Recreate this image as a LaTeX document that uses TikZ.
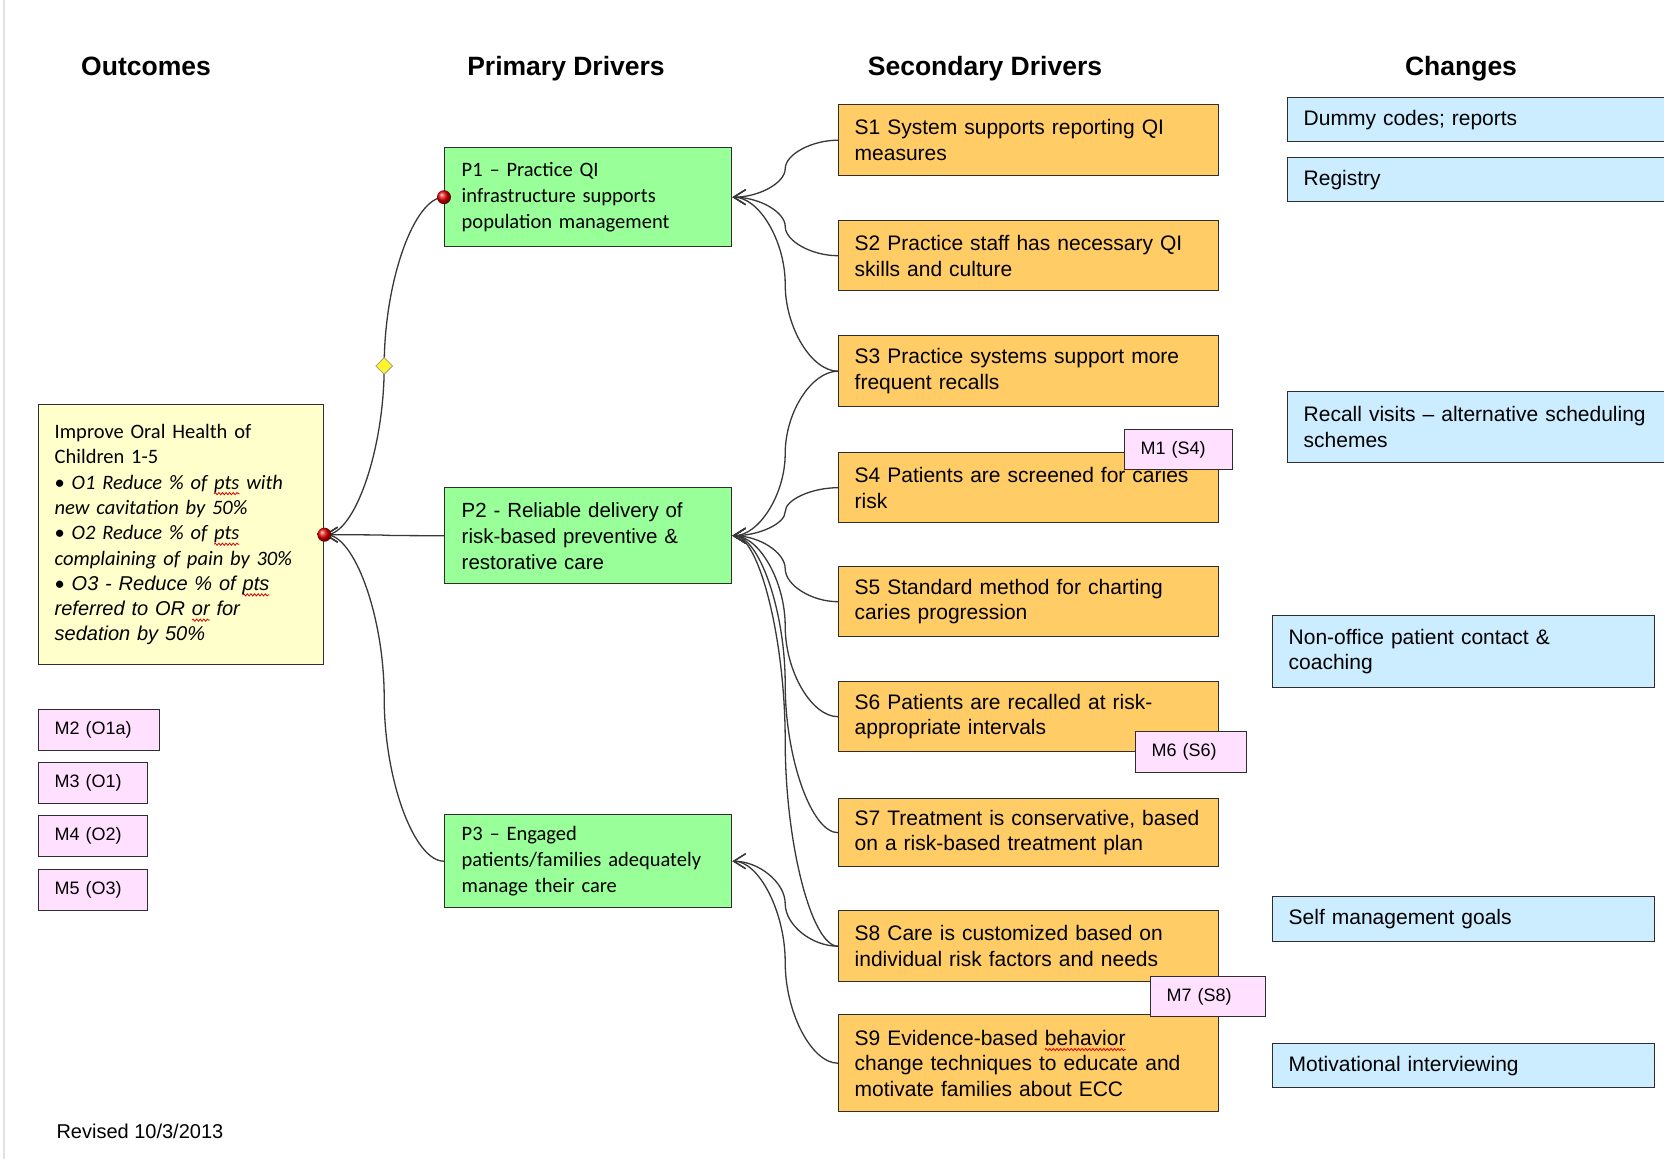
\documentclass[tikz,border=0pt]{standalone}
\usepackage{fontspec}
\setmainfont{Liberation Sans}
\newfontfamily\calfont{Carlito}
\usetikzlibrary{arrows.meta,calc,shapes.geometric,decorations.pathmorphing}

\definecolor{outfill}{HTML}{FFFFCC}
\definecolor{primfill}{HTML}{99FF99}
\definecolor{secfill}{HTML}{FFCC66}
\definecolor{chgfill}{HTML}{CCECFF}
\definecolor{measfill}{HTML}{FFE1FF}
\definecolor{rim}{HTML}{2E2E2E}
\definecolor{wirecol}{HTML}{383838}
\definecolor{pagerule}{HTML}{E2E2E2}

% red wavy spelling underline under a word
\newsavebox\spellbox
\newcommand\spellmark[1]{\sbox\spellbox{#1}\leavevmode
  \tikz[overlay,baseline=0pt,x=1pt,y=1pt]\draw[red!85!black,line width=0.8pt,
    decorate,decoration={snake,amplitude=1.1pt,segment length=3.6pt}]
    (0pt,-4.5pt) -- (\the\wd\spellbox,-4.5pt);%
  \usebox\spellbox}

\newcommand\txtS{\fontsize{21}{25.7}\selectfont}
\newcommand\txtP{\calfont\fontsize{20.5}{26}\selectfont}

\begin{document}
\begin{tikzpicture}[x=1pt,y=-1pt,
  box/.style={draw=rim, line width=1.4pt, anchor=north west, inner xsep=16pt,
    inner ysep=0pt, align=left, text=black},
  secbox/.style={box, fill=secfill, minimum width=380pt, minimum height=70pt,
    text width=348pt, font=\txtS},
  primbox/.style={box, fill=primfill, inner xsep=17pt, minimum width=287pt,
    text width=253pt, font=\txtP},
  chgbox/.style={box, fill=chgfill, font=\txtS},
  measbox/.style={box, fill=measfill, minimum height=41pt,
    font=\fontsize{18}{22}\selectfont},
  coltitle/.style={anchor=base, font=\fontsize{26.5}{30}\selectfont\bfseries},
  wire/.style={draw=wirecol, line width=1.3pt,
    -{Straight Barb[length=12pt,width=15pt,line width=1.3pt]}},
  pcurve/.style={to path={
    let \p1=(\tikztostart), \p2=(\tikztotarget),
        \p3=($(\p1)!0.5!(\p2)$), \p4=($(\p1)!0.25!(\p2)$),
        \p5=($(\p1)!0.75!(\p2)$) in
    .. controls ($(\p1)!0.5!(\x3,\y1)$) and (\x3,\y4) .. (\p3)
    .. controls (\x3,\y5) and ($(\p2)!0.5!(\x3,\y2)$) .. (\p2) \tikztonodes}},
  reddot/.style={circle, inner sep=0pt, minimum size=14pt, shading=ball,
    ball color=red!90!black},
  handle/.style={diamond, inner sep=0pt, minimum size=17pt, draw=gray!80,
    line width=0.8pt, fill=yellow!85!white}
]
\useasboundingbox (0,0) rectangle (1664,1159);
\clip (0,0) rectangle (1664,1159);
\fill[white] (0,0) rectangle (1664,1159);
\draw[pagerule, line width=1.5pt] (4,0) -- (4,1159);

% column headings
\node[coltitle] (hout) at (146,75) {Outcomes};
\node[coltitle] (hprim) at (566,75) {Primary Drivers};
\node[coltitle] (hsec) at (985,75) {Secondary Drivers};
\node[coltitle] (hchg) at (1461,75) {Changes};

% outcome
\node[box, fill=outfill, minimum width=285pt, minimum height=260pt,
  text width=253pt, font=\calfont\fontsize{20.5}{25.3}\selectfont] (o) at (38,404)
  {Improve Oral Health of\\
   Children 1-5\\
   • \textit{O1 Reduce \% of \spellmark{pts} with}\\
   \textit{new cavitation by 50\%}\\
   • \textit{O2 Reduce \% of \spellmark{pts}}\\
   \textit{complaining of pain by 30\%}\\
   • {\rmfamily\itshape\fontsize{20}{25.3}\selectfont O3 - Reduce \% of \spellmark{pts}}\\
   {\rmfamily\itshape\fontsize{20}{25.3}\selectfont referred to OR \spellmark{or} for}\\
   {\rmfamily\itshape\fontsize{20}{25.3}\selectfont sedation by 50\%}};

% outcome measures
\node[measbox, minimum width=121pt, text width=89pt] (m2) at (38,709) {M2 (O1a)};
\node[measbox, minimum width=109pt, text width=77pt] (m3) at (38,762) {M3 (O1)};
\node[measbox, minimum width=109pt, text width=77pt] (m4) at (38,815) {M4 (O2)};
\node[measbox, minimum width=109pt, text width=77pt] (m5) at (38,869) {M5 (O3)};

% primary drivers
\node[primbox, minimum height=99pt] (p1) at (444,147)
  {P1 – Practice QI\\ infrastructure supports\\ population management};
\node[primbox, minimum height=96pt, font=\fontsize{20.5}{26}\selectfont] (p2) at (444,487)
  {P2 - Reliable delivery of\\ risk-based preventive \&\\ restorative care};
\node[primbox, minimum height=93pt] (p3) at (444,814)
  {P3 – Engaged\\ patients/families adequately\\ manage their care};

% secondary drivers
\node[secbox, minimum height=71pt] (s1) at (838,104)
  {S1 System supports reporting QI\\ measures};
\node[secbox] (s2) at (838,220)
  {S2 Practice staff has necessary QI\\ skills and culture};
\node[secbox, minimum height=71pt] (s3) at (838,335)
  {S3 Practice systems support more\\ frequent recalls};
\node[secbox] (s4) at (838,452)
  {S4 Patients are screened for caries\\ risk};
\node[secbox] (s5) at (838,566)
  {S5 Standard method for charting\\ caries progression};
\node[secbox] (s6) at (838,681)
  {S6 Patients are recalled at risk-\\ appropriate intervals};
\node[secbox, minimum height=68pt] (s7) at (838,798)
  {S7 Treatment is conservative, based\\ on a risk-based treatment plan};
\node[secbox, minimum height=71pt] (s8) at (838,910)
  {S8 Care is customized based on\\ individual risk factors and needs};
\node[secbox, minimum height=97pt] (s9) at (838,1014)
  {S9 Evidence-based \spellmark{behavior}\\ change techniques to educate and\\ motivate families about ECC};

% changes
\node[chgbox, minimum width=420pt, minimum height=44pt, text width=388pt] (c1) at (1287,97)
  {Dummy codes; reports};
\node[chgbox, minimum width=420pt, minimum height=44pt, text width=388pt] (c2) at (1287,157)
  {Registry};
\node[chgbox, minimum width=420pt, minimum height=71pt, text width=388pt] (c3) at (1287,391)
  {Recall visits – alternative scheduling\\ schemes};
\node[chgbox, minimum width=382pt, minimum height=72pt, text width=350pt] (c4) at (1272,615)
  {Non-office patient contact \&\\ coaching};
\node[chgbox, minimum width=382pt, minimum height=45pt, text width=350pt] (c5) at (1272,896)
  {Self management goals};
\node[chgbox, minimum width=382pt, minimum height=44pt, text width=350pt] (c6) at (1272,1043)
  {Motivational interviewing};

% secondary -> primary
\draw[wire] (s1.west) to[pcurve] (p1.east);
\draw[wire] (s2.west) to[pcurve] (p1.east);
\draw[wire] (s3.west) to[pcurve] (p1.east);
\draw[wire] (s3.west) to[pcurve] (p2.east);
\draw[wire] (s4.west) to[pcurve] (p2.east);
\draw[wire] (s5.west) to[pcurve] (p2.east);
\draw[wire] (s6.west) to[pcurve] (p2.east);
\draw[wire] (s7.west) to[pcurve] (p2.east);
\draw[wire] (s8.west) to[pcurve] (p2.east);
\draw[wire] (s8.west) to[pcurve] (p3.east);
\draw[wire] (s9.west) to[pcurve] (p3.east);

% primary -> outcome
\draw[wire] (p1.west) to[pcurve] (o.east);
\draw[wire] (p2.west) to[pcurve] (o.east);
\draw[wire] (p3.west) to[pcurve] (o.east);

% connector handles
\node[reddot] (dotp1) at (p1.west) {};
\node[reddot] (doto) at (o.east) {};
\node[handle] (mid) at ($(p1.west)!0.5!(o.east)$) {};

% driver measures laid over the secondary boxes
\node[measbox, minimum width=108pt, minimum height=40pt, text width=76pt] (m1) at (1124,429) {M1 (S4)};
\node[measbox, minimum width=111pt, text width=79pt] (m6) at (1135,731) {M6 (S6)};
\node[measbox, minimum width=115pt, minimum height=40pt, text width=83pt] (m7) at (1150,976) {M7 (S8)};

% footer
\node[anchor=base west, font=\fontsize{20}{24}\selectfont] (rev) at (53,1138) {Revised 10/3/2013};
\end{tikzpicture}
\end{document}
